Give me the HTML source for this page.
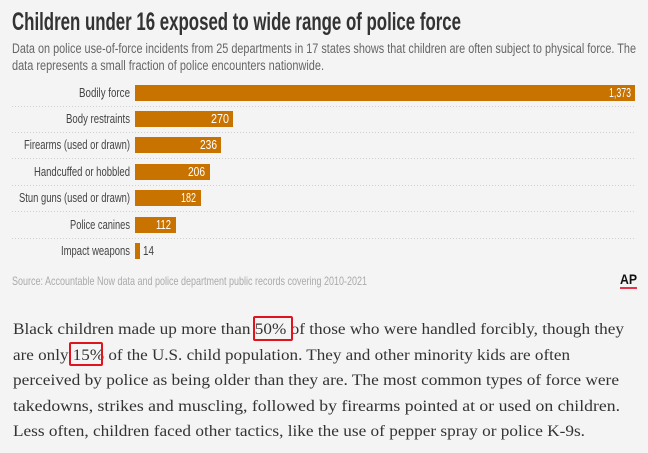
<!DOCTYPE html>
<html><head><meta charset="utf-8"><style>
body{margin:0;width:648px;height:453px;background:#f4f4f4;overflow:hidden}
svg{position:absolute;left:0;top:0}
.n{font-family:"Liberation Sans",sans-serif}
.sf{font-family:"Liberation Serif",serif}
</style></head><body>
<svg width="648" height="453" viewBox="0 0 648 453">
<text class="n" x="12" y="30" font-size="25" font-weight="bold" fill="#333" textLength="449" lengthAdjust="spacingAndGlyphs">Children under 16 exposed to wide range of police force</text>
<text class="n" x="12" y="53" font-size="13.5" fill="#666" textLength="624" lengthAdjust="spacingAndGlyphs">Data on police use-of-force incidents from 25 departments in 17 states shows that children are often subject to physical force. The</text>
<text class="n" x="12" y="70" font-size="13.5" fill="#666" textLength="312" lengthAdjust="spacingAndGlyphs">data represents a small fraction of police encounters nationwide.</text>
<g fill="#c87200">
<rect x="135" y="85" width="500" height="16"/>
<rect x="135" y="111" width="98" height="16"/>
<rect x="135" y="137" width="86" height="16"/>
<rect x="135" y="164" width="75" height="16"/>
<rect x="135" y="190" width="66" height="16"/>
<rect x="135" y="217" width="41" height="16"/>
<rect x="135" y="243" width="5" height="16"/>
</g>
<g stroke="#cfcfcf" stroke-width="1" stroke-dasharray="1,2">
<line x1="12" x2="635" y1="106.5" y2="106.5"/>
<line x1="12" x2="635" y1="132.5" y2="132.5"/>
<line x1="12" x2="635" y1="158.5" y2="158.5"/>
<line x1="12" x2="635" y1="185.5" y2="185.5"/>
<line x1="12" x2="635" y1="211.5" y2="211.5"/>
<line x1="12" x2="635" y1="238.5" y2="238.5"/>
</g>
<g class="n" font-size="12.5" fill="#444">
<text x="79" y="97" textLength="51" lengthAdjust="spacingAndGlyphs">Bodily force</text>
<text x="66" y="123" textLength="64" lengthAdjust="spacingAndGlyphs">Body restraints</text>
<text x="24" y="149" textLength="106" lengthAdjust="spacingAndGlyphs">Firearms (used or drawn)</text>
<text x="34" y="176" textLength="96" lengthAdjust="spacingAndGlyphs">Handcuffed or hobbled</text>
<text x="19" y="202" textLength="111" lengthAdjust="spacingAndGlyphs">Stun guns (used or drawn)</text>
<text x="70" y="229" textLength="60" lengthAdjust="spacingAndGlyphs">Police canines</text>
<text x="61" y="255" textLength="69" lengthAdjust="spacingAndGlyphs">Impact weapons</text>
<text x="143" y="255" textLength="11" lengthAdjust="spacingAndGlyphs">14</text>
</g>
<g class="n" font-size="13" fill="#fff">
<text x="609" y="97" textLength="22" lengthAdjust="spacingAndGlyphs">1,373</text>
<text x="211" y="123" textLength="18" lengthAdjust="spacingAndGlyphs">270</text>
<text x="200" y="149" textLength="17" lengthAdjust="spacingAndGlyphs">236</text>
<text x="188" y="176" textLength="17" lengthAdjust="spacingAndGlyphs">206</text>
<text x="181" y="202" textLength="15" lengthAdjust="spacingAndGlyphs">182</text>
<text x="156" y="229" textLength="15" lengthAdjust="spacingAndGlyphs">112</text>
</g>
<text class="n" x="12" y="285" font-size="12" fill="#aaa" textLength="355" lengthAdjust="spacingAndGlyphs">Source: Accountable Now data and police department public records covering 2010-2021</text>
<text class="n" x="620" y="284" font-size="14" font-weight="bold" fill="#111" textLength="17" lengthAdjust="spacingAndGlyphs">AP</text>
<rect x="620" y="287" width="17" height="2" fill="#e8334a"/>
<g class="sf" font-size="16" fill="#333">
<text x="13" y="334" textLength="611" lengthAdjust="spacingAndGlyphs">Black children made up more than 50% of those who were handled forcibly, though they</text>
<text x="13" y="360" textLength="557" lengthAdjust="spacingAndGlyphs">are only 15% of the U.S. child population. They and other minority kids are often</text>
<text x="13" y="385" textLength="606" lengthAdjust="spacingAndGlyphs">perceived by police as being older than they are. The most common types of force were</text>
<text x="13" y="411" textLength="607" lengthAdjust="spacingAndGlyphs">takedowns, strikes and muscling, followed by firearms pointed at or used on children.</text>
<text x="13" y="436" textLength="572" lengthAdjust="spacingAndGlyphs">Less often, children faced other tactics, like the use of pepper spray or police K-9s.</text>
</g>
<g fill="none" stroke="#e0141e" stroke-width="2">
<rect x="254" y="317" width="38" height="23" rx="1"/>
<rect x="70" y="343" width="32" height="22" rx="1"/>
</g>
</svg>
</body></html>
